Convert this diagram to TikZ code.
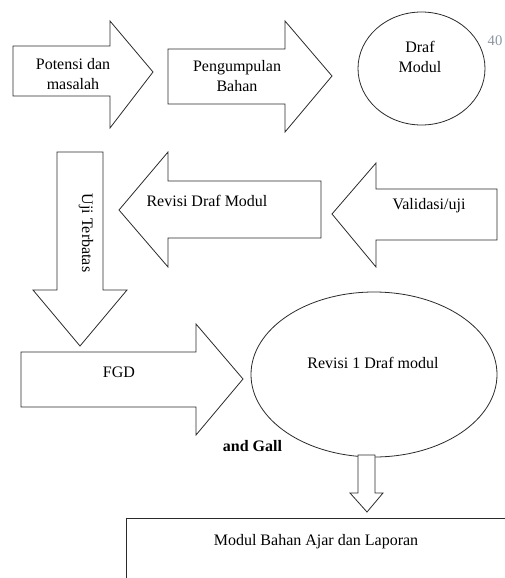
\documentclass[tikz,border=0pt]{standalone}
\usepackage{fontspec}
\setmainfont{Liberation Serif}
\usetikzlibrary{shapes.geometric}
\definecolor{PageGray}{HTML}{8C95A3}
\definecolor{Edge}{HTML}{2B2B2B}

\begin{document}
\begin{tikzpicture}[
  x=0.75pt,y=-0.75pt,
  blk/.style={draw=Edge,line width=0.6pt,line join=miter,fill=white},
  oval/.style={ellipse,draw=Edge,line width=0.6pt,fill=white,inner sep=0pt},
  txt/.style={font=\fontsize{12}{14.5}\selectfont,align=center,inner sep=0pt}
]
\useasboundingbox (0,0) rectangle (505,578);
% top row
\draw[blk] (13,46) -- (110,46) -- (110,21) -- (153,72) -- (110,128) -- (110,96) -- (13,96) -- cycle;
\node[txt] (potensi) at (73,74) {Potensi dan\\masalah};
\draw[blk] (168,49) -- (285,49) -- (285,21) -- (332,76) -- (285,132) -- (285,104) -- (168,104) -- cycle;
\node[txt] (bahan) at (237,76) {Pengumpulan\\Bahan};
\node[oval,minimum width=95.25pt,minimum height=84.75pt] (draf) at (421.5,68.5) {};
\node[txt] (draftxt) at (420,57) {Draf\\Modul};
\node[txt,font=\fontsize{11}{13}\selectfont,text=PageGray] (hal) at (495,41) {40};
% second row
\draw[blk] (57,152) -- (103,152) -- (103,290) -- (127,290) -- (80,346) -- (33,290) -- (57,290) -- cycle;
\node[txt,rotate=-90] (uji) at (86,233) {Uji Terbatas};
\draw[blk] (321,181) -- (168,181) -- (168,152) -- (119,210) -- (168,267) -- (168,238) -- (321,238) -- cycle;
\node[txt] (revisi) at (207,201) {Revisi Draf Modul};
\draw[blk] (497,189) -- (376,189) -- (376,163) -- (332,214) -- (376,267) -- (376,240) -- (497,240) -- cycle;
\node[txt] (validasi) at (429,206) {Validasi/uji};
% third row
\draw[blk] (21,352) -- (196,352) -- (196,324) -- (243,379) -- (196,435) -- (196,407) -- (21,407) -- cycle;
\node[txt] (fgd) at (119,372) {FGD};
\node[oval,minimum width=184.5pt,minimum height=123.75pt] (revisi1) at (374,374.5) {};
\node[txt] (revisi1txt) at (373,363) {Revisi 1 Draf modul};
\node[txt,font=\fontsize{12}{14.5}\selectfont\bfseries] (gall) at (252.5,446) {and Gall};
% bottom
\draw[blk] (358,455) -- (375,455) -- (375,493) -- (383,493) -- (367,512) -- (350,493) -- (358,493) -- cycle;
\draw[blk,fill=none] (505,518) -| (126,578);
\node[txt] (laporan) at (316,542) {Modul Bahan Ajar dan Laporan};
\end{tikzpicture}
\end{document}
